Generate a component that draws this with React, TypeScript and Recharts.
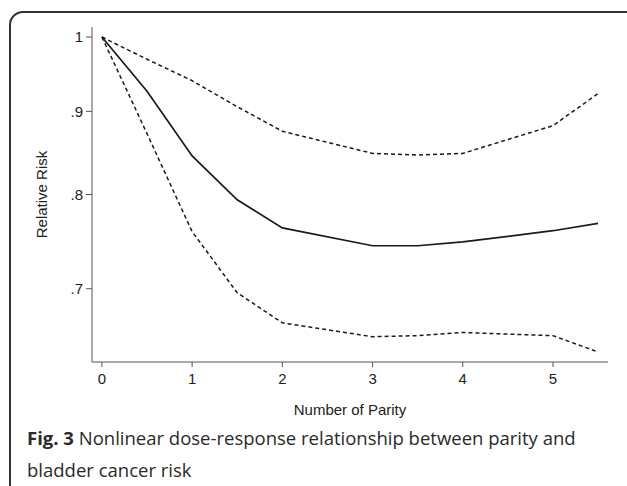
import React from "react";
import { LineChart, Line, XAxis, YAxis, Label } from "recharts";

// parity values where the curves bend
const parity = [0, 0.5, 1, 1.5, 2, 3, 3.5, 4, 5, 5.5];
const relativeRisk = [1, 0.926, 0.845, 0.794, 0.763, 0.744, 0.744, 0.748, 0.76, 0.768];
const upperCI = [1, 0.969, 0.94, 0.906, 0.875, 0.848, 0.846, 0.848, 0.882, 0.923];
const lowerCI = [1, 0.872, 0.759, 0.696, 0.667, 0.654, 0.655, 0.658, 0.655, 0.64];

const xTicks = [0, 1, 2, 3, 4, 5];
const yTicks = [0.7, 0.8, 0.9, 1];

const chartData = parity.map((p, i) => ({
  parity: p,
  rr: relativeRisk[i],
  upper: upperCI[i],
  lower: lowerCI[i],
}));

const axisColor = "#555";
const lineColor = "#1a1a1a";
const tickStyle = { fontFamily: "'Liberation Sans', Arial, sans-serif", fontSize: 15, fill: "#222" };

const fmtY = (v: number) => (v === 1 ? "1" : "." + Math.round(v * 10));

const captionLine: React.CSSProperties = {
  position: "absolute",
  left: 27,
  whiteSpace: "nowrap",
  fontFamily: "'Open Sans', 'Noto Sans', sans-serif",
  fontSize: 18.5,
  lineHeight: "32px",
  color: "#2a2a2a",
};

const App: React.FC = () => {
  return (
    <div
      style={{
        position: "absolute",
        left: 0,
        top: 0,
        width: 627,
        height: 486,
        overflow: "hidden",
        background: "#fff",
      }}
    >
      {/* rounded frame, cut off at right and bottom */}
      <div
        style={{
          position: "absolute",
          left: 9,
          top: 11,
          width: 660,
          height: 520,
          border: "2px solid #333",
          borderRadius: 14,
          boxSizing: "border-box",
        }}
      />
      <div style={{ position: "absolute", left: 0, top: 0 }}>
        <LineChart
          width={627}
          height={425}
          data={chartData}
          margin={{ top: 27, right: 19, bottom: 33, left: 42 }}
        >
          <XAxis
            dataKey="parity"
            type="number"
            domain={[-0.11, 5.61]}
            allowDataOverflow
            ticks={xTicks}
            tickSize={5}
            tickMargin={6}
            stroke={axisColor}
            tick={tickStyle}
            height={30}
          >
            <Label
              value="Number of Parity"
              position="bottom"
              offset={12}
              style={{ ...tickStyle, textAnchor: "middle" }}
            />
          </XAxis>
          <YAxis
            type="number"
            scale="log"
            domain={[0.631, 1.0143]}
            allowDataOverflow
            ticks={yTicks}
            tickFormatter={fmtY}
            tickSize={6}
            tickMargin={3}
            stroke={axisColor}
            tick={tickStyle}
            width={50}
          >
            <Label
              value="Relative Risk"
              angle={-90}
              position="insideLeft"
              offset={0}
              style={{ ...tickStyle, textAnchor: "middle" }}
            />
          </YAxis>
          <Line
            dataKey="upper"
            stroke={lineColor}
            strokeWidth={1.5}
            strokeDasharray="4 3"
            dot={false}
            isAnimationActive={false}
          />
          <Line
            dataKey="rr"
            stroke={lineColor}
            strokeWidth={1.7}
            dot={false}
            isAnimationActive={false}
          />
          <Line
            dataKey="lower"
            stroke={lineColor}
            strokeWidth={1.5}
            strokeDasharray="4 3"
            dot={false}
            isAnimationActive={false}
          />
        </LineChart>
      </div>
      <div style={{ ...captionLine, top: 422 }}>
        <b>Fig. 3</b> Nonlinear dose-response relationship between parity and
      </div>
      <div style={{ ...captionLine, top: 454 }}>bladder cancer risk</div>
    </div>
  );
};

export default App;
